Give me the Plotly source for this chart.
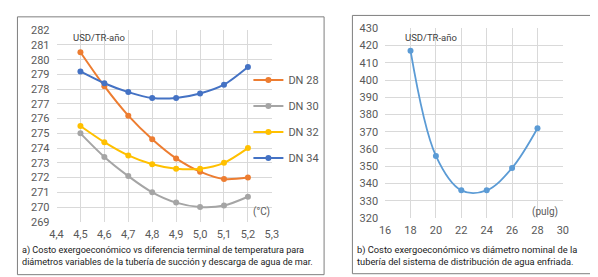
import plotly.graph_objects as go

# ---- data ----
dt = [4.5, 4.6, 4.7, 4.8, 4.9, 5.0, 5.1, 5.2]
dn28 = [280.5, 278.2, 276.2, 274.6, 273.3, 272.4, 271.9, 272.0]
dn30 = [275.0, 273.4, 272.1, 271.0, 270.3, 270.0, 270.1, 270.7]
dn32 = [275.5, 274.4, 273.5, 272.9, 272.6, 272.6, 273.0, 274.0]
dn34 = [279.2, 278.4, 277.8, 277.4, 277.4, 277.7, 278.3, 279.5]
series_names = ["DN 28", "DN 30", "DN 32", "DN 34"]
series_colors = ["#ED7D31", "#A5A5A5", "#FFC000", "#4472C4"]

diam = [18, 20, 22, 24, 26, 28]
cost_b = [417, 356, 336, 336, 349, 372]

caption_a = "a) Costo exergoeconómico vs diferencia terminal de temperatura para<br>diámetros variables de la tubería de succión y descarga de agua de mar."
caption_b = "b) Costo exergoeconómico vs diámetro nominal de la<br>tubería del sistema de distribución de agua enfriada."

W, H = 598, 277
FONT = "Roboto"
TICK = "#595959"
GRID = "#D9D9D9"

def px(x):
    return x / W

def py(y):
    return 1 - y / H

fig = go.Figure()

for name, vals, col in zip(series_names, [dn28, dn30, dn32, dn34], series_colors):
    fig.add_trace(go.Scatter(
        x=dt, y=vals, name=name, mode="lines+markers",
        line=dict(color=col, width=2, shape="spline", smoothing=0.8),
        marker=dict(color=col, size=6),
        xaxis="x", yaxis="y", legendgroup=name, showlegend=True))

fig.add_trace(go.Scatter(
    x=diam, y=cost_b, mode="lines+markers", showlegend=False,
    line=dict(color="#5B9BD5", width=1.8, shape="spline", smoothing=1.0),
    marker=dict(color="#5B9BD5", size=6),
    xaxis="x2", yaxis="y2"))

axis_common = dict(showgrid=True, gridcolor=GRID, gridwidth=1, zeroline=False,
                   showline=False, ticks="", tickfont=dict(family=FONT, size=11, color=TICK))

fig.update_layout(
    width=W, height=H,
    margin=dict(l=0, r=0, t=0, b=0),
    paper_bgcolor="white", plot_bgcolor="white",
    separators=",.",
    font=dict(family=FONT, color="#222222"),
    xaxis=dict(domain=[px(42.5), px(263)], range=[4.4, 5.3], dtick=0.1, tick0=4.4,
               tickformat=".1f", anchor="y", ticklabelstandoff=4, **axis_common),
    yaxis=dict(domain=[py(218), py(17)], range=[269, 282], dtick=1, anchor="x",
               ticklabelstandoff=6, **axis_common),
    xaxis2=dict(domain=[px(379), px(561)], range=[16, 30], dtick=2, anchor="y2",
                ticklabelstandoff=4, **axis_common),
    yaxis2=dict(domain=[py(214), py(15)], range=[320, 430], dtick=10, anchor="x2",
                ticklabelstandoff=6, **axis_common),
    legend=dict(x=px(239), y=py(54), xanchor="left", yanchor="top",
                font=dict(family=FONT, size=11, color=TICK),
                bgcolor="rgba(0,0,0,0)", tracegroupgap=7, itemwidth=30),
    shapes=[
        dict(type="rect", xref="paper", yref="paper", x0=px(2.5), x1=px(316.5),
             y0=py(273.5), y1=py(3), line=dict(color="#7F7F7F", width=1)),
        dict(type="rect", xref="paper", yref="paper", x0=px(345.5), x1=px(595.5),
             y0=py(272.5), y1=py(1.5), line=dict(color="#7F7F7F", width=1)),
    ],
    annotations=[
        dict(text="USD/TR-año", x=px(57), y=py(25), xref="paper", yref="paper",
             xanchor="left", yanchor="middle", showarrow=False,
             font=dict(family=FONT, size=9.5, color="#404040")),
        dict(text="(°C)", x=px(242), y=py(208), xref="paper", yref="paper",
             xanchor="left", yanchor="middle", showarrow=False,
             font=dict(family=FONT, size=10, color=TICK)),
        dict(text="USD/TR-año", x=px(397), y=py(25), xref="paper", yref="paper",
             xanchor="left", yanchor="middle", showarrow=False,
             font=dict(family=FONT, size=9.5, color="#404040")),
        dict(text="(pulg)", x=px(527), y=py(208), xref="paper", yref="paper",
             xanchor="left", yanchor="middle", showarrow=False,
             font=dict(family=FONT, size=10, color=TICK)),
        dict(text=caption_a, x=px(5), y=py(253.5), xref="paper", yref="paper",
             xanchor="left", yanchor="middle", showarrow=False, align="left",
             font=dict(family=FONT, size=9.1, color="#1a1a1a")),
        dict(text=caption_b, x=px(348), y=py(253.5), xref="paper", yref="paper",
             xanchor="left", yanchor="middle", showarrow=False, align="left",
             font=dict(family=FONT, size=9.3, color="#1a1a1a")),
    ],
)

fig.write_html("out.html")
